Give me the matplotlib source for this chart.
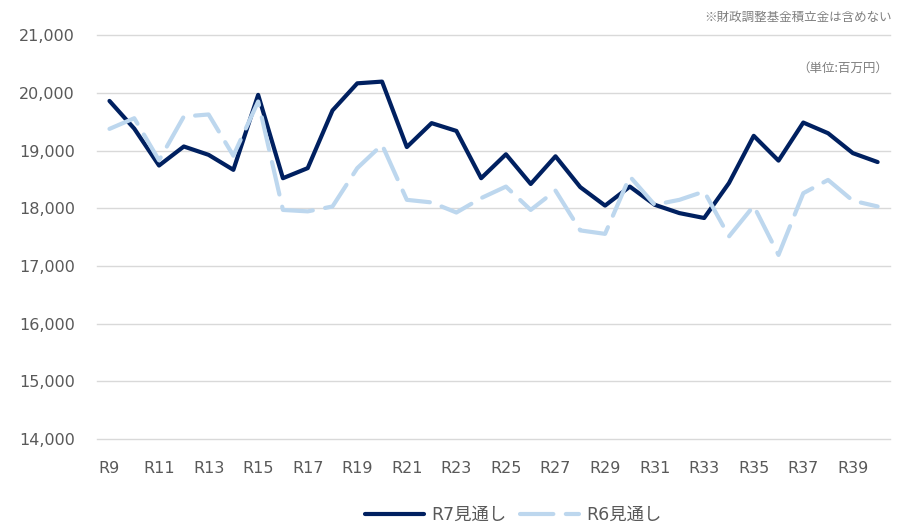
import matplotlib
matplotlib.use('Agg')
import matplotlib.pyplot as plt
import matplotlib.ticker as ticker

plt.rcParams['font.family'] = ['DejaVu Sans', 'Noto Sans CJK JP']

# 年度 (R9 - R40)
years = [f'R{i}' for i in range(9, 41)]

# R7見通し (百万円)
r7 = [19860, 19380, 18740, 19070, 18925, 18665, 19965, 18520, 18695, 19695,
      20165, 20195, 19060, 19475, 19340, 18520, 18935, 18420, 18900, 18365,
      18045, 18375, 18060, 17915, 17830, 18435, 19255, 18825, 19485, 19300,
      18955, 18800]

# R6見通し (百万円)
r6 = [19375, 19560, 18830, 19590, 19625, 18910, 19850, 17970, 17945, 18030,
      18695, 19100, 18145, 18100, 17925, 18175, 18375, 17970, 18305, 17615,
      17555, 18550, 18060, 18145, 18290, 17510, 18040, 17190, 18260, 18490,
      18130, 18030]

tick_labels = years[::2]

dark = '#002060'
light = '#BDD7EE'
text_col = '#595959'

fig = plt.figure(figsize=(8.99, 5.25), dpi=100)
ax = fig.add_axes([0.108, 0.164, 0.882, 0.769])

x = list(range(len(years)))
ax.plot(x, r7, color=dark, linewidth=3.0, solid_capstyle='round',
        solid_joinstyle='round', label='R7見通し')
ax.plot(x, r6, color=light, linewidth=3.0, linestyle=(0, (8, 3)),
        dash_capstyle='round', dash_joinstyle='round', label='R6見通し')

ax.set_xlim(-0.5, len(years) - 0.5)
ax.set_ylim(14000, 21000)
ax.set_yticks(range(14000, 21001, 1000))
ax.yaxis.set_major_formatter(ticker.FuncFormatter(lambda v, _: f'{int(v):,}'))
ax.set_xticks(x[::2])
ax.set_xticklabels(tick_labels)

ax.grid(axis='y', color='#d9d9d9', linewidth=1.0)
for gl in ax.get_ygridlines():
    gl.set_clip_on(False)
ax.set_axisbelow(True)
for s in ax.spines.values():
    s.set_visible(False)
ax.tick_params(axis='both', length=0, labelsize=11.5, colors=text_col)
ax.tick_params(axis='y', pad=16)
ax.tick_params(axis='x', pad=16)

fig.text(0.992, 0.966, '※財政調整基金積立金は含めない', ha='right', va='center',
         fontsize=9, color='#7f7f7f', family=['Noto Sans CJK JP', 'DejaVu Sans'])
fig.text(0.988, 0.870, '（単位:百万円）', ha='right', va='center',
         fontsize=9, color='#7f7f7f', family=['Noto Sans CJK JP', 'DejaVu Sans'])

leg = ax.legend(loc='center', bbox_to_anchor=(0.525, -0.188), ncol=2,
                frameon=False, handlelength=3.4, handletextpad=0.4,
                columnspacing=0.8,
                prop={'family': ['DejaVu Sans', 'Noto Sans CJK JP'], 'size': 12.5})
for t in leg.get_texts():
    t.set_color(text_col)

fig.savefig('out.png', dpi=100)
